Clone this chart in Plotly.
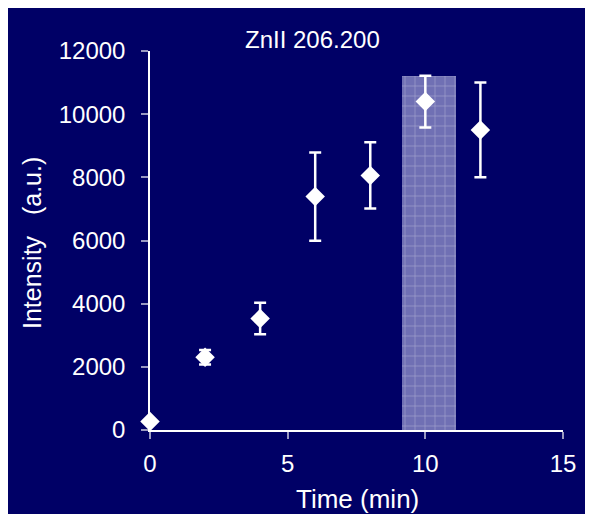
import plotly.graph_objects as go

# Data
time_min = [0, 2, 4, 6, 8, 10, 12]
intensity = [270, 2300, 3530, 7390, 8060, 10400, 9500]
error = [60, 230, 500, 1400, 1050, 820, 1500]
shade_x = [9.15, 11.1]   # shaded time window (min)
shade_top = 11200
x_ticks = [0, 5, 10, 15]
y_ticks = [0, 2000, 4000, 6000, 8000, 10000, 12000]

NAVY = "#000066"
OFF = 8  # page body margin
W, H = 593, 514
PW, PH = 413, 379
L, T = 150 - OFF, 51 - OFF
R, B = W - L - PW, H - T - PH

fig = go.Figure()

# shaded window as a patterned bar
fig.add_trace(go.Bar(
    x=[(shade_x[0] + shade_x[1]) / 2], y=[shade_top],
    width=[shade_x[1] - shade_x[0]],
    marker=dict(color="#7070b4", line=dict(width=0),
                pattern=dict(shape="+", fgcolor="rgba(255,255,255,0.85)",
                             bgcolor="#7070b4", size=10, solidity=0.1)),
    showlegend=False, hoverinfo="skip"))

fig.add_trace(go.Scatter(
    x=time_min, y=intensity, mode="markers", cliponaxis=False,
    marker=dict(symbol="diamond", size=15, color="white"),
    error_y=dict(type="data", array=error, visible=True, color="white",
                 thickness=2.5, width=6),
    showlegend=False))

# page pixel -> paper coordinates
def px_x(p):
    return (p - OFF - L) / PW

def px_y(p):
    return (T + PH - (p - OFF)) / PH

font = "Liberation Sans, Arial, sans-serif"
fig.update_layout(
    width=W, height=H,
    margin=dict(l=L, r=R, t=T, b=B),
    paper_bgcolor=NAVY, plot_bgcolor=NAVY,
    bargap=0,
    font=dict(family=font, color="white", size=24),
    xaxis=dict(range=[0, 15], tickvals=x_ticks, showgrid=False, zeroline=False,
               showline=True, linecolor="white", linewidth=1.5,
               ticks="outside", ticklen=7, tickcolor="#9a9ac0", tickwidth=1.5,
               ticklabelstandoff=4, tickfont=dict(size=24, color="white")),
    yaxis=dict(range=[0, 12000], tickvals=y_ticks, tickformat="d",
               showgrid=False, zeroline=False,
               showline=True, linecolor="white", linewidth=1.5,
               ticks="outside", ticklen=7, tickcolor="#9a9ac0", tickwidth=1.5,
               ticklabelstandoff=11, tickfont=dict(size=24, color="white")),
    annotations=[
        dict(text="ZnII 206.200", xref="paper", yref="paper", x=px_x(312), y=px_y(40),
             showarrow=False, font=dict(size=24, color="white"), xanchor="center", yanchor="middle"),
        dict(text="Time (min)", xref="paper", yref="paper", x=px_x(357), y=px_y(499),
             showarrow=False, font=dict(size=26, color="white"), xanchor="center", yanchor="middle"),
        dict(text="Intensity   (a.u.)", xref="paper", yref="paper", x=px_x(32), y=px_y(243),
             showarrow=False, textangle=-90, font=dict(size=25, color="white"),
             xanchor="center", yanchor="middle"),
    ],
)

fig.write_html("out.html", config={"displayModeBar": False})
